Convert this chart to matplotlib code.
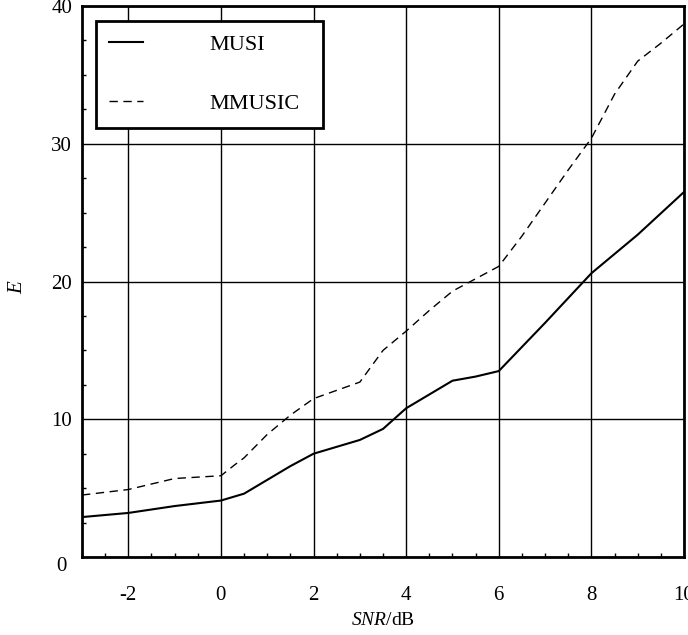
import numpy as np
import matplotlib
matplotlib.use("Agg")
import matplotlib.pyplot as plt
import matplotlib.transforms as mtransforms
from matplotlib.ticker import MultipleLocator

# values
musiSnr = [-3, -2, -1, 0, 0.5, 1, 1.5, 2, 3, 3.5, 4, 4.5, 5, 5.5, 6, 7, 8, 9, 10]
musiE = [2.9, 3.2, 3.7, 4.1, 4.6, 5.6, 6.6, 7.5, 8.5, 9.3, 10.8, 11.8, 12.8, 13.1, 13.5, 17.0, 20.6, 23.4, 26.5]

mmusicSnr = [-3, -2, -1, -0.5, 0, 0.3, 0.5, 1, 1.5, 2, 2.5, 3, 3.5, 4, 4.5, 5, 5.5, 6, 6.5, 7, 7.5, 8, 8.5, 9, 9.5, 10]
mmusicE = [4.5, 4.9, 5.7, 5.8, 5.9, 6.7, 7.2, 8.9, 10.3, 11.5, 12.1, 12.7, 15.0, 16.4, 17.9, 19.3, 20.2, 21.1, 23.3, 25.7, 28.1, 30.4, 33.6, 36.0, 37.3, 38.7]

xTicks = [-2, 0, 2, 4, 6, 8, 10]
yTicks = [0, 10, 20, 30, 40]

plt.rcParams['font.family'] = ['Liberation Serif', 'DejaVu Serif']
plt.rcParams['mathtext.fontset'] = 'custom'
plt.rcParams['mathtext.rm'] = 'Liberation Serif'
plt.rcParams['mathtext.it'] = 'Liberation Serif:italic'
plt.rcParams['axes.unicode_minus'] = False

fig = plt.figure(figsize=(6.88, 6.35), dpi=100)
ax = fig.add_axes([0.1192, 0.1228, 0.875, 0.8677])

ax.plot(musiSnr, musiE, color='black', linewidth=1.5, label='MUSI')
ax.plot(mmusicSnr, mmusicE, color='black', linewidth=1.0, dashes=(6, 4), label='MMUSIC')

ax.set_xlim(-3, 10)
ax.set_ylim(0, 40)
ax.set_xticks(xTicks)
ax.set_yticks(yTicks)
ax.xaxis.set_minor_locator(MultipleLocator(0.5))
ax.yaxis.set_minor_locator(MultipleLocator(2.5))
ax.grid(True, which='major', color='black', linewidth=1.0)
ax.tick_params(axis='both', which='major', direction='in', length=0, labelsize=15)
ax.tick_params(axis='x', which='major', pad=21)
ax.tick_params(axis='y', which='major', pad=7)
ax.tick_params(axis='both', which='minor', direction='in', length=3, width=1, color='black')
for spine in ax.spines.values():
    spine.set_linewidth(2)
    spine.set_color('black')

# the "0" on the y axis sits a little lower and further left in the original
zeroLabel = ax.get_yticklabels()[0]
zeroLabel.set_transform(zeroLabel.get_transform() +
                        mtransforms.ScaledTranslation(-4 / 72, -5 / 72, fig.dpi_scale_trans))

ax.set_xlabel(r'$SNR$/dB', fontsize=14)
ax.xaxis.set_label_coords(0.5, -0.1)
ax.set_ylabel(r'$E$', fontsize=15)
ax.yaxis.set_label_coords(-0.091, 0.49)

leg = ax.legend(
    loc='upper left',
    bbox_to_anchor=(0.023, 0.784, 0.377, 0.189),
    mode='expand',
    fontsize=16,
    handlelength=1.5,
    handletextpad=3.0,
    labelspacing=1.75,
    borderpad=0.6,
    borderaxespad=0,
    fancybox=False,
    framealpha=1,
    edgecolor='black',
)
leg.get_frame().set_linewidth(2)

fig.savefig('out.png', dpi=100)
